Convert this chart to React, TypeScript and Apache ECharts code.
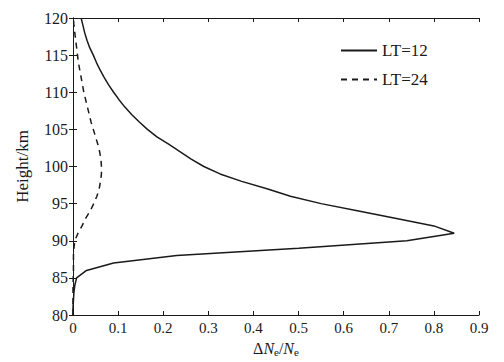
import React, { useEffect, useRef } from "react";
import * as echarts from "echarts";

const heights = [80, 81, 82, 83, 84, 85, 86, 87, 88, 89, 90, 91, 92, 93, 94, 95, 96, 97, 98, 99, 100,
  101, 102, 103, 104, 105, 106, 107, 108, 109, 110, 111, 112, 113, 114, 115, 116, 117, 118, 119, 120];

const lt12 = [0, 0, 0.001, 0.002, 0.004, 0.008, 0.03, 0.09, 0.23, 0.5, 0.74, 0.845, 0.8, 0.717, 0.633, 0.55,
  0.482, 0.43, 0.374, 0.326, 0.29,
  0.262, 0.237, 0.212, 0.186, 0.165, 0.147, 0.13, 0.115, 0.102, 0.09,
  0.079, 0.069, 0.06, 0.052, 0.045, 0.037, 0.031, 0.026, 0.022, 0.018];

const lt24 = [0, 0, 0, 0, 0, 0.0005, 0.001, 0.001, 0.001, 0.002, 0.004, 0.011, 0.02, 0.028, 0.038, 0.046,
  0.053, 0.058, 0.061, 0.063, 0.063,
  0.062, 0.059, 0.055, 0.05, 0.045, 0.04, 0.036, 0.032, 0.028, 0.024,
  0.021, 0.018, 0.015, 0.012, 0.01, 0.008, 0.006, 0.004, 0.002, 0.001];

const xTicks = ["0", "0.1", "0.2", "0.3", "0.4", "0.5", "0.6", "0.7", "0.8", "0.9"];
const seriesNames = ["LT=12", "LT=24"];

const FONT = "'Liberation Serif', 'Times New Roman', serif";
const INK = "#1a1a1a";

export default function App() {
  const ref = useRef<HTMLDivElement>(null);
  useEffect(() => {
    if (!ref.current) return;
    const chart = echarts.init(ref.current, null, { renderer: "svg" });
    const axisCommon = {
      axisLine: { show: true, lineStyle: { color: INK, width: 1 } },
      axisTick: { show: true, inside: true, length: 4, lineStyle: { color: INK } },
      splitLine: { show: false },
    };
    chart.setOption({
      animation: false,
      backgroundColor: "#fff",
      grid: { left: 73, top: 18, width: 406, height: 299, containLabel: false },
      legend: {
        orient: "vertical",
        left: 335,
        top: 37,
        itemWidth: 36,
        itemHeight: 14,
        itemGap: 12,
        data: seriesNames,
        itemStyle: { opacity: 0 },
        textStyle: { fontFamily: FONT, fontSize: 17, color: INK },
      },
      xAxis: [
        {
          type: "value",
          min: 0,
          max: 0.9,
          interval: 0.1,
          position: "bottom",
          ...axisCommon,
          axisLabel: {
            fontFamily: FONT,
            fontSize: 15,
            color: INK,
            margin: 5,
            formatter: (v: number) => xTicks[Math.round(v * 10)] ?? "",
          },
          name: "{a|Δ}{i|N}{s|e}{a|/}{i|N}{s|e}",
          nameLocation: "middle",
          nameGap: 25,
          nameTextStyle: {
            rich: {
              a: { fontFamily: FONT, fontSize: 16, color: INK },
              i: { fontFamily: FONT, fontSize: 16, fontStyle: "italic", color: INK },
              s: { fontFamily: FONT, fontSize: 11, color: INK, padding: [6, 0, 0, 0] },
            },
          },
        },
        {
          type: "value",
          min: 0,
          max: 0.9,
          interval: 0.1,
          position: "top",
          ...axisCommon,
          axisLabel: { show: false },
        },
      ],
      yAxis: [
        {
          type: "value",
          min: 80,
          max: 120,
          interval: 5,
          position: "left",
          ...axisCommon,
          axisLabel: { fontFamily: FONT, fontSize: 16, color: INK, margin: 5 },
          name: "Height/km",
          nameLocation: "middle",
          nameGap: 42,
          nameTextStyle: { fontFamily: FONT, fontSize: 17, color: INK },
        },
        {
          type: "value",
          min: 80,
          max: 120,
          interval: 5,
          position: "right",
          ...axisCommon,
          axisLabel: { show: false },
        },
      ],
      series: [
        {
          name: seriesNames[0],
          type: "line",
          data: heights.map((h, i) => [lt12[i], h]),
          symbol: "none",
          lineStyle: { color: INK, width: 1.5, type: "solid" },
          itemStyle: { color: INK },
        },
        {
          name: seriesNames[1],
          type: "line",
          data: heights.map((h, i) => [lt24[i], h]),
          symbol: "none",
          lineStyle: { color: INK, width: 1.5, type: [6, 5] },
          itemStyle: { color: INK },
        },
      ],
    });
    return () => chart.dispose();
  }, []);
  return (
    <div
      ref={ref}
      style={{ position: "fixed", left: 0, top: 0, width: 504, height: 362, background: "#fff" }}
    />
  );
}
